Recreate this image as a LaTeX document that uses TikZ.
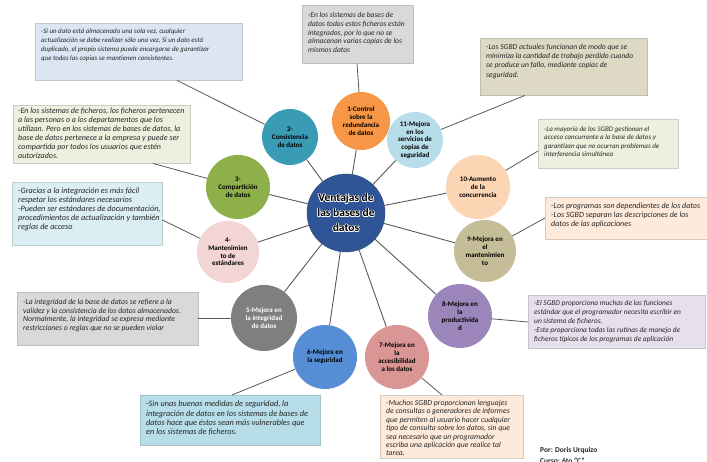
\documentclass[tikz,border=0pt]{standalone}
\usepackage{fontspec}
\setmainfont{Carlito}
\usetikzlibrary{calc}
\definecolor{cc0}{HTML}{2F5597}
\definecolor{cc1}{HTML}{F79646}
\definecolor{cc2}{HTML}{3A9BB5}
\definecolor{cc3}{HTML}{8DB04A}
\definecolor{cc4}{HTML}{F2D5D4}
\definecolor{cc5}{HTML}{7F7F7F}
\definecolor{cc6}{HTML}{558ED5}
\definecolor{cc7}{HTML}{D99694}
\definecolor{cc8}{HTML}{9B85BB}
\definecolor{cc9}{HTML}{C4BD97}
\definecolor{cc10}{HTML}{FCD5B5}
\definecolor{cc11}{HTML}{B7DEE8}
\definecolor{bxblue}{HTML}{DCE6F2}
\definecolor{bxgray}{HTML}{D9D9D9}
\definecolor{bxtan}{HTML}{DDD9C4}
\definecolor{bxgreen}{HTML}{EBF1DE}
\definecolor{bxlblue}{HTML}{DBEEF4}
\definecolor{bxpeach}{HTML}{FDEADA}
\definecolor{bxlav}{HTML}{E6E0EC}
\definecolor{bxsky}{HTML}{B7DEE8}
\definecolor{linecol}{HTML}{595959}
\definecolor{txt}{HTML}{262626}
\tikzset{
  sat/.style={circle, inner sep=0pt, align=center, font=\fontsize{7}{7.8}\selectfont\bfseries, text=black},
  infobox/.style={rectangle, draw=#1!70!gray, line width=0.4pt, fill=#1, anchor=north west, inner sep=0pt},
  infotext/.style 2 args={anchor=north west, align=left, inner sep=0pt, text=txt, font=\fontsize{#1}{#2}\selectfont\itshape},
  conn/.style={draw=linecol, line width=0.9pt},
  centertext/.style={inner sep=0pt, align=center, font=\fontsize{11.5}{15}\selectfont\bfseries},
}
\begin{document}
\begin{tikzpicture}[x=1pt,y=-1pt]
\useasboundingbox (0,0) rectangle (707,462);
\fill[white] (0,0) rectangle (707,462);

% center
\node[circle, fill=cc0, draw=cc0!80!black, minimum size=78pt, inner sep=0pt] (c0) at (346,213) {};
\foreach \dx/\dy [count=\k] in {0.7/0,-0.7/0,0/0.7,0/-0.7,0.5/0.5,-0.5/0.5,0.5/-0.5,-0.5/-0.5} {
  \node[centertext, text=white] (halo\k) at ($(c0.center)+(\dx,\dy)$) {Ventajas de\\las bases de\\datos};
}
\node[centertext, text=black] (c0t) at (c0.center) {\color{black}Ventajas de\\\color{black}las bases de\\\color{black}datos};

% satellites
\node[sat, fill=cc1, minimum size=58pt] (c1) at (361,121) {1-Control\\sobre la\\redundancia\\de datos};
\node[sat, fill=cc2, minimum size=56pt] (c2) at (290,137) {2-\\Consistencia\\de datos};
\node[sat, fill=cc3, minimum size=64pt] (c3) at (238,187) {3-\\Compartición\\de datos};
\node[sat, fill=cc4, minimum size=62pt] (c4) at (228,252) {4-\\Mantenimien\\to de\\estándares};
\node[sat, fill=cc5, minimum size=66pt, text=white] (c5) at (264,318) {5-Mejora en\\la integridad\\de datos};
\node[sat, fill=cc6, minimum size=64pt] (c6) at (325,357) {6-Mejora en\\la seguridad};
\node[sat, fill=cc7, minimum size=64pt] (c7) at (397,357) {7-Mejora en\\la\\accesibilidad\\a los datos};
\node[sat, fill=cc8, minimum size=64pt] (c8) at (460,316) {8-Mejora en\\la\\productivida\\d};
\node[sat, fill=cc9, minimum size=62pt] (c9) at (485,251) {9-Mejora en\\el\\mantenimien\\to};
\node[sat, fill=cc10, minimum size=64pt] (c10) at (478,187) {10-Aumento\\de la\\concurrencia};
\node[sat, fill=cc11, minimum size=56pt] (c11) at (415,140) {11-Mejora\\en los\\servicios de\\copias de\\seguridad};

\foreach \i in {1,...,11} { \draw[conn] (c0) -- (c\i); }

% boxes
\node[infobox=bxblue, minimum width=207pt, minimum height=57pt] (b2) at (35,23) {};
\node[infotext={6.9}{8.9}] at ($(b2.north west)+(6,6)$) {-Si un dato está almacenado una sola vez, cualquier\\actualización se debe realizar sólo una vez, Si un dato está\\duplicado, el propio sistema puede encargarse de garantizar\\que todas las copias se mantienen consistentes.};

\node[infobox=bxgray, minimum width=111pt, minimum height=58pt] (b1) at (302,5) {};
\node[infotext={7.5}{8.8}] at ($(b1.north west)+(6,7)$) {-En los sistemas de bases de\\datos todos estos ficheros están\\integrados, por lo que no se\\almacenan varias copias de los\\mismos datos};

\node[infobox=bxtan, minimum width=167pt, minimum height=57pt] (b11) at (480,38) {};
\node[infotext={7.6}{9.2}] at ($(b11.north west)+(6,6)$) {-Los SGBD actuales funcionan de modo que se\\minimiza la cantidad de trabajo perdido cuando\\se produce un fallo, mediante copias de\\seguridad.};

\node[infobox=bxgreen, minimum width=177pt, minimum height=58pt] (b3) at (13,105) {};
\node[infotext={8}{9}] at ($(b3.north west)+(5,3)$) {-En los sistemas de ficheros, los ficheros pertenecen\\a las personas o a los departamentos que los\\utilizan. Pero en los sistemas de bases de datos, la\\base de datos pertenece a la empresa y puede ser\\compartida por todos los usuarios que estén\\autorizados.};

\node[infobox=bxgreen, minimum width=140pt, minimum height=49pt] (b10) at (538,119) {};
\node[infotext={7}{8.5}] at ($(b10.north west)+(6,7)$) {-La mayoría de los SGBD gestionan el\\acceso concurrente a la base de datos y\\garantizan que no ocurran problemas de\\interferencia simultánea};

\node[infobox=bxlblue, minimum width=150pt, minimum height=63pt] (b4) at (12,182) {};
\node[infotext={8.2}{8.8}] at ($(b4.north west)+(6,6)$) {-Gracias a la integración es más fácil\\respetar los estándares necesarios\\-Pueden ser estándares de documentación,\\procedimientos de actualización y también\\reglas de acceso};

\node[infobox=bxpeach, minimum width=170pt, minimum height=42pt] (b9) at (545,197) {};
\node[infotext={8}{9}] at ($(b9.north west)+(6,6)$) {-Los programas son dependientes de los datos\\-Los SGBD separan las descripciones de los\\datos de las aplicaciones};

\node[infobox=bxgray, minimum width=181pt, minimum height=53pt] (b5) at (17,292) {};
\node[infotext={7.7}{8.6}] at ($(b5.north west)+(6,7)$) {-La integridad de la base de datos se refiere a la\\validez y la consistencia de los datos almacenados.\\Normalmente, la integridad se expresa mediante\\restricciones o reglas que no se pueden violar};

\node[infobox=bxlav, minimum width=177pt, minimum height=53pt] (b8) at (528,295) {};
\node[infotext={7.4}{9}] at ($(b8.north west)+(6,5)$) {-El SGBD proporciona muchas de las funciones\\estándar que el programador necesita escribir en\\un sistema de ficheros.\\-Este proporciona todas las rutinas de manejo de\\ficheros típicos de los programas de aplicación};

\node[infobox=bxsky, minimum width=180pt, minimum height=50pt] (b6) at (140,395) {};
\node[infotext={8.3}{9.3}] at ($(b6.north west)+(6,6)$) {-Sin unas buenas medidas de seguridad, la\\integración de datos en los sistemas de bases de\\datos hace que éstos sean más vulnerables que\\en los sistemas de ficheros.};

\node[infobox=bxpeach, minimum width=143pt, minimum height=63pt] (b7) at (380,395) {};
\node[infotext={7.7}{8.4}] at ($(b7.north west)+(6,5)$) {-Muchos SGBD proporcionan lenguajes\\de consultas o generadores de informes\\que permiten al usuario hacer cualquier\\tipo de consulta sobre los datos, sin que\\sea necesario que un programador\\escriba una aplicación que realice tal\\tarea.};

% box connectors
\coordinate (p2) at ($(b2.south west)+(142,0)$);
\coordinate (p1) at ($(b1.south west)+(55,0)$);
\coordinate (p11) at ($(b11.south west)+(45,0)$);
\coordinate (p3) at ($(b3.south west)+(140,0)$);
\coordinate (p10) at ($(b10.north west)+(0,32)$);
\coordinate (p4) at ($(b4.north east)+(0,38)$);
\coordinate (p9) at ($(b9.north west)+(0,21)$);
\coordinate (p5) at ($(b5.north east)+(0,26)$);
\coordinate (p8) at ($(b8.north west)+(0,27)$);
\coordinate (p6) at ($(b6.north west)+(92,0)$);
\coordinate (p7) at ($(b7.north west)+(62,0)$);
\foreach \i in {1,...,11} { \draw[linecol, line width=0.8pt] (p\i) -- (c\i); }

% signature
\node[anchor=west, inner sep=0pt, font=\fontsize{7.5}{8}\selectfont\bfseries, text=txt] (sig1) at (540,450) {Por: Doris Urquizo};
\node[anchor=west, inner sep=0pt, font=\fontsize{7.5}{8}\selectfont\bfseries, text=txt] (sig2) at (540,461) {Curso: 6to "C"};
\end{tikzpicture}
\end{document}
